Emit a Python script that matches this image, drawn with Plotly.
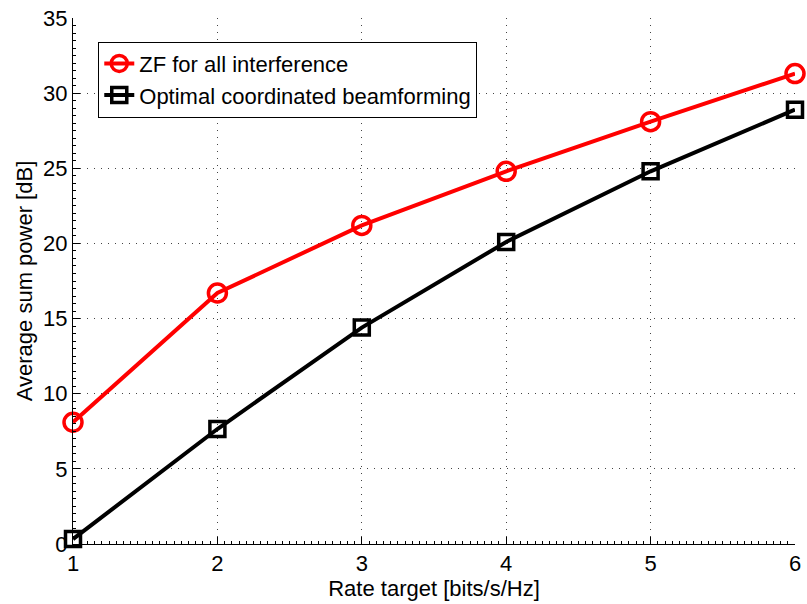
import plotly.graph_objects as go

rate = [1, 2, 3, 4, 5, 6]
zf_all = [8.1, 16.7, 21.2, 24.8, 28.1, 31.3]
optimal_cb = [0.33, 7.65, 14.4, 20.1, 24.8, 28.9]
x_ticks = [1, 2, 3, 4, 5, 6]
y_ticks = [0, 5, 10, 15, 20, 25, 30, 35]

FONT = "Liberation Sans, Arial, sans-serif"
FS = 22

fig = go.Figure()
fig.add_trace(go.Scatter(
    x=rate, y=zf_all, mode="lines+markers", name="ZF for all interference",
    line=dict(color="#ff0000", width=4),
    marker=dict(symbol="circle-open", size=18, color="#ff0000", line=dict(width=3.5)),
    cliponaxis=False,
))
fig.add_trace(go.Scatter(
    x=rate, y=optimal_cb, mode="lines+markers", name="Optimal coordinated beamforming",
    line=dict(color="#000000", width=4),
    marker=dict(symbol="square-open", size=15, color="#000000", line=dict(width=3.5)),
    cliponaxis=False,
))

axis_common = dict(
    showline=True, linecolor="#000000", linewidth=1,
    ticks="inside", ticklen=7, tickcolor="#000000",
    showgrid=True, gridcolor="#444444", griddash="1px,6px", gridwidth=1,
    zeroline=False, mirror=False, automargin=False,
    tickfont=dict(family=FONT, size=FS, color="#000000"),
)

fig.update_layout(
    template="none",
    width=807, height=604,
    margin=dict(l=73, r=12, t=18, b=60),
    plot_bgcolor="white", paper_bgcolor="white",
    font=dict(family=FONT, size=FS, color="#000000"),
    xaxis=dict(
        range=[1, 6], tickmode="array", tickvals=x_ticks,
        title=dict(text="Rate target [bits/s/Hz]", font=dict(family=FONT, size=FS), standoff=4),
        minor=dict(dtick=0.05, ticks="inside", ticklen=3, tickcolor="#000000", showgrid=False),
        **axis_common,
    ),
    yaxis=dict(
        range=[0, 35], tickmode="array", tickvals=y_ticks,
        title=dict(text="Average sum power [dB]", font=dict(family=FONT, size=FS), standoff=4),
        minor=dict(dtick=0.5, ticks="inside", ticklen=3, tickcolor="#000000", showgrid=False),
        **axis_common,
    ),
    legend=dict(
        x=0.035, y=0.955, xanchor="left", yanchor="top",
        bgcolor="white", bordercolor="#000000", borderwidth=1,
        font=dict(family=FONT, size=FS, color="#000000"),
        tracegroupgap=0,
    ),
)

fig.write_html("out.html")
